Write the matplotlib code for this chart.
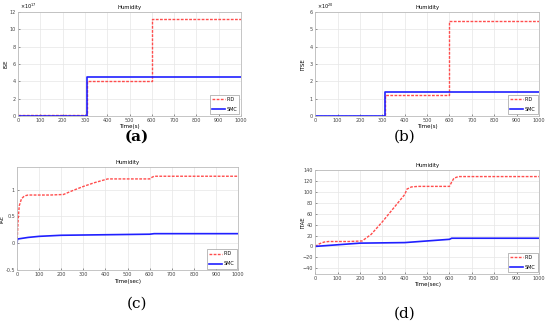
import matplotlib.pyplot as plt

# (a) ISE, step values at breakpoints (x 1e17)
t_step = [0, 310, 600, 1000]
ise_pid = [0.1, 4.05, 11.15, 11.15]
ise_smc = [0.0, 4.5, 4.5, 4.5]

# (b) ITSE (x 1e20)
itse_pid = [0.0, 1.2, 5.5, 5.5]
itse_smc = [0.0, 1.4, 1.4, 1.4]

# (c) IAE
t_iae_pid = [0, 5, 10, 20, 30, 40, 50, 100, 150, 210, 250, 300, 350, 410, 420, 500, 600, 610, 620, 1000]
iae_pid = [0, 0.45, 0.7, 0.83, 0.87, 0.89, 0.9, 0.9, 0.9, 0.91, 0.98, 1.06, 1.13, 1.2, 1.2, 1.2, 1.2, 1.23, 1.25, 1.25]
t_iae_smc = [0, 2, 50, 100, 200, 400, 600, 620, 1000]
iae_smc = [0, 0.08, 0.11, 0.13, 0.15, 0.16, 0.17, 0.18, 0.18]

# (d) ITAE
t_itae_pid = [0, 20, 40, 60, 100, 150, 210, 250, 300, 350, 400, 410, 430, 460, 500, 600, 610, 620, 640, 1000]
itae_pid = [0, 5, 8, 9, 9, 9, 10, 22, 45, 70, 95, 105, 109, 110, 110, 110, 118, 125, 128, 128]
t_itae_smc = [0, 200, 400, 600, 610, 1000]
itae_smc = [0, 6, 7, 13, 15, 15]

red = '#ff4d4d'
blue = '#2020ff'
fs = 3.5

fig = plt.figure(figsize=(5.5, 3.22), dpi=100)
ax_a = fig.add_axes([0.033, 0.640, 0.405, 0.323])
ax_b = fig.add_axes([0.573, 0.640, 0.407, 0.323])
ax_c = fig.add_axes([0.031, 0.161, 0.402, 0.320])
ax_d = fig.add_axes([0.573, 0.150, 0.407, 0.322])


def style(ax, xlabel, ylabel, lx):
    ax.set_xlim(0, 1000)
    ax.set_xticks(range(0, 1001, 100))
    ax.grid(True, color='#e6e6e6', linewidth=0.5)
    ax.tick_params(direction='in', length=1.5, width=0.4, labelsize=fs, pad=1.5, colors='#444444')
    for s in ax.spines.values():
        s.set_color('#bbbbbb')
        s.set_linewidth(0.6)
    ax.set_title('Humidity', fontsize=fs + 0.3, pad=2)
    ax.set_xlabel(xlabel, fontsize=fs + 0.5, labelpad=1)
    ax.set_ylabel(ylabel, fontsize=fs + 0.5)
    ax.yaxis.set_label_coords(lx, 0.5)
    leg = ax.legend(loc='lower right', fontsize=fs, handlelength=2.6, borderpad=0.5,
                    handletextpad=0.3, labelspacing=1.0, fancybox=False, framealpha=1,
                    edgecolor='#888888', borderaxespad=0.3)
    leg.get_frame().set_linewidth(0.4)


ax_a.step(t_step, ise_pid, where='post', color=red, ls=(0, (2, 1)), lw=1.0, label='PID')
ax_a.step(t_step, ise_smc, where='post', color=blue, lw=1.2, label='SMC')
ax_a.set_ylim(0, 12)
ax_a.set_yticks(range(0, 13, 2))
ax_a.text(0.01, 1.005, r'$\times10^{17}$', transform=ax_a.transAxes, fontsize=fs, va='bottom')
style(ax_a, 'Time(s)', 'ISE', -0.045)

ax_b.step(t_step, itse_pid, where='post', color=red, ls=(0, (2, 1)), lw=1.0, label='PID')
ax_b.step(t_step, itse_smc, where='post', color=blue, lw=1.2, label='SMC')
ax_b.set_ylim(0, 6)
ax_b.set_yticks(range(0, 7))
ax_b.text(0.01, 1.005, r'$\times10^{20}$', transform=ax_b.transAxes, fontsize=fs, va='bottom')
style(ax_b, 'Time(s)', 'ITSE', -0.045)

ax_c.plot(t_iae_pid, iae_pid, color=red, ls=(0, (2, 1)), lw=1.0, label='PID')
ax_c.plot(t_iae_smc, iae_smc, color=blue, lw=1.2, label='SMC')
ax_c.set_ylim(-0.5, 1.42)
ax_c.set_yticks([-0.5, 0, 0.5, 1])
ax_c.set_yticklabels(['-0.5', '0', '0.5', '1'])
style(ax_c, 'Time(sec)', 'IAE', -0.055)
ax_c.yaxis.label.set_fontsize(fs)

ax_d.plot(t_itae_pid, itae_pid, color=red, ls=(0, (2, 1)), lw=1.0, label='PID')
ax_d.plot(t_itae_smc, itae_smc, color=blue, lw=1.2, label='SMC')
ax_d.set_ylim(-50, 140)
ax_d.set_yticks(range(-40, 141, 20))
style(ax_d, 'Time(sec)', 'ITAE', -0.045)

fig.text(0.249, 1 - 137 / 322, '(a)', fontsize=11, family='DejaVu Serif', weight='bold', ha='center', va='center')
fig.text(0.736, 1 - 137 / 322, '(b)', fontsize=11, family='DejaVu Serif', ha='center', va='center')
fig.text(0.249, 1 - 304 / 322, '(c)', fontsize=11, family='DejaVu Serif', ha='center', va='center')
fig.text(0.736, 1 - 314 / 322, '(d)', fontsize=11, family='DejaVu Serif', ha='center', va='center')

fig.savefig('out.png', dpi=100)
